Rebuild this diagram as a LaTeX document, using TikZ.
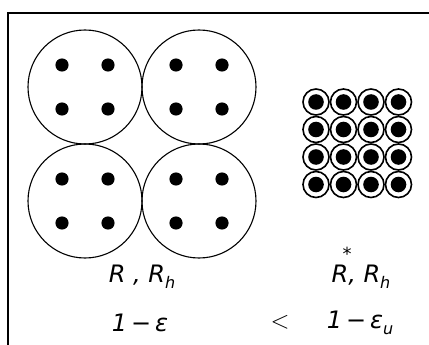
\documentclass[tikz,border=0pt]{standalone}
\usepackage{fontspec}
\setmainfont{DejaVu Sans}
\tikzset{
  frame/.style={line width=1.4pt},
  big/.style={draw, line width=1.1pt},
  dot/.style={fill=black},
  ring/.style={draw, line width=1.6pt},
  lbl/.style={font=\fontsize{24}{26}\selectfont\itshape, inner sep=0pt}
}
\newcommand{\sub}[1]{\raisebox{-6pt}{\fontsize{16}{16}\selectfont #1}}
\begin{document}
\begin{tikzpicture}[x=1pt,y=-1pt]
\useasboundingbox (0,0) rectangle (429,345);
\fill[white] (0,0) rectangle (429,345);
% frame
\coordinate (fbl) at (8,345);
\coordinate (ftl) at (8,13);
\coordinate (ftr) at (429,13);
\draw[frame] (fbl) -- (ftl) -- (ftr);
% big circles
\foreach \cx/\cy [count=\i] in {85/87, 199/87, 85/201, 199/201}{
  \draw[big] (\cx,\cy) circle[radius=57];
  \foreach \dx in {-23,23}{
    \foreach \dy in {-22,22}{
      \fill[dot] (\cx+\dx,\cy+\dy) circle[radius=6.6];
    }
  }
}
% small grid
\foreach \gx in {0,1,2,3}{
  \foreach \gy in {0,1,2,3}{
    \draw[ring] (316+27.5*\gx,102+27.5*\gy) circle[radius=13];
    \fill[dot] (316+27.5*\gx,102+27.5*\gy) circle[radius=7.8];
  }
}
% labels
\node[lbl] (l1) at (142,277) {R , R\sub{h}};
\node[lbl] (l2) at (361,277) {R, R\sub{h}};
\node[lbl, font=\fontsize{18}{18}\selectfont] (star) at (347,254) {*};
\node[lbl] (l3) at (140,323) {1\,−\,ε};
\node[inner sep=0pt] (l4) at (280,322) {\fontsize{30}{30}\selectfont$<$};
\node[lbl] (l5) at (360,323) {1\,−\,ε\sub{u}};
\end{tikzpicture}
\end{document}
